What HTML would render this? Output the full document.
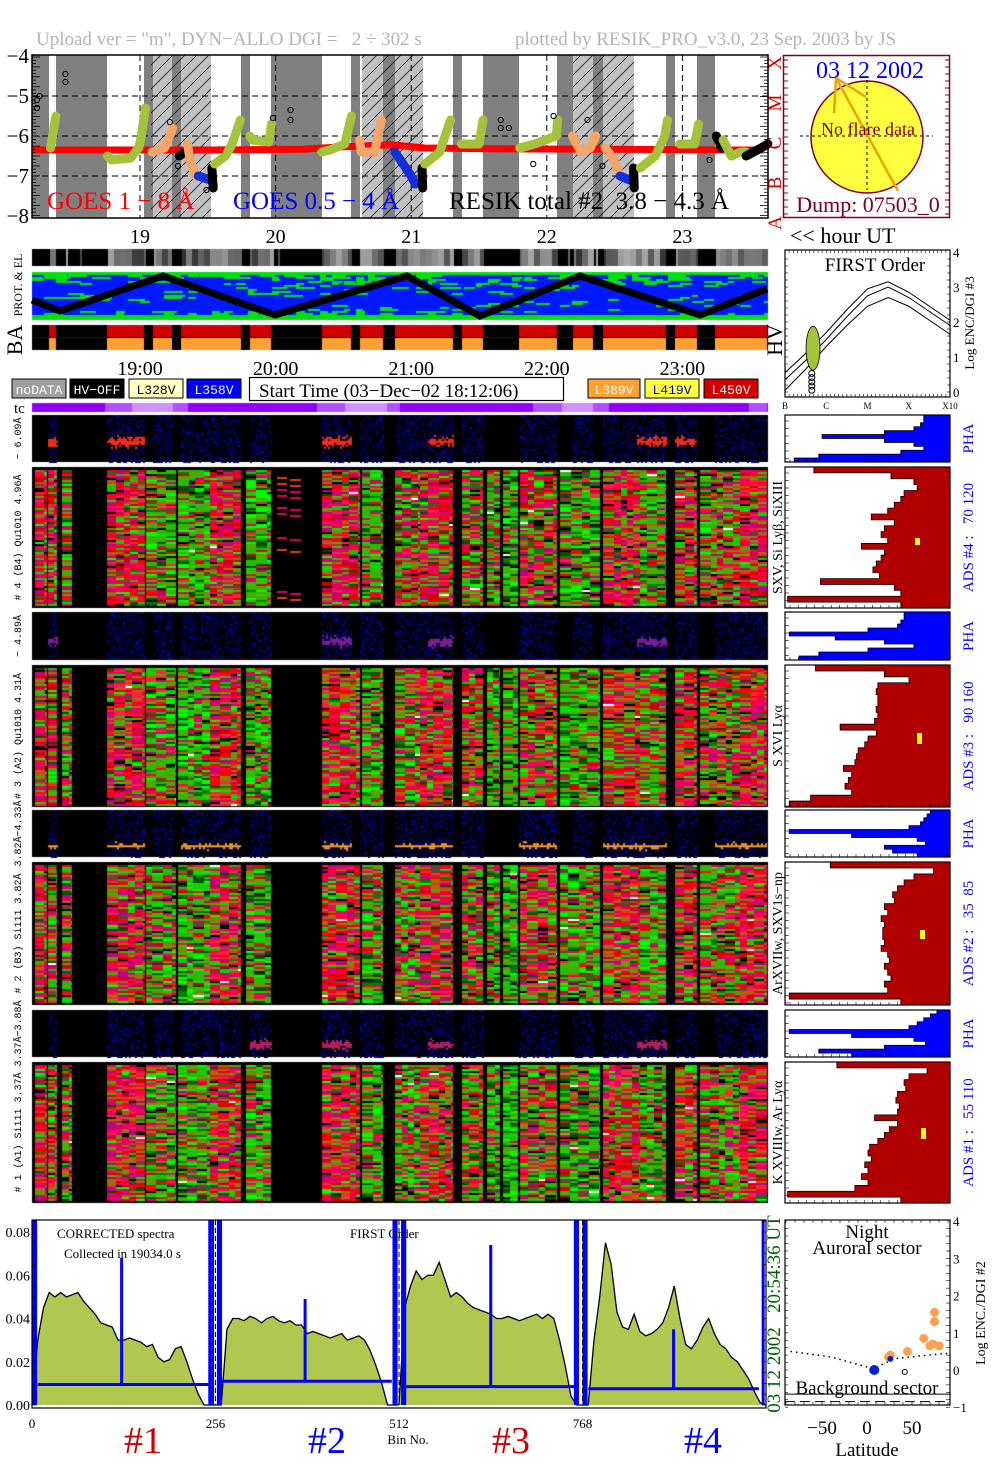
<!DOCTYPE html>
<html><head><meta charset="utf-8"><title>RESIK</title>
<style>
html,body{margin:0;padding:0;background:#fff;overflow:hidden}
#wrap{position:relative;width:1004px;height:1477px}
canvas,svg{position:absolute;left:0;top:0}
text{font-family:"Liberation Serif",serif}
.mono{font-family:"Liberation Mono",monospace}
</style></head>
<body>
<div id="wrap">
<canvas id="cv" width="1004" height="1477"></canvas>
<svg id="sv" width="1004" height="1477" xmlns="http://www.w3.org/2000/svg">
<defs>
<pattern id="hatch" width="12" height="12" patternUnits="userSpaceOnUse">
<path d="M0,12 L12,0 M-3,3 L3,-3 M9,15 L15,9" stroke="#000" stroke-width="0.7"/>
</pattern>
</defs>
<text x="36" y="45" font-size="19" fill="#b4b4b4" style="white-space:pre">Upload ver = "m", DYN−ALLO DGI =   2 ÷ 302 s</text>
<text x="515" y="45" font-size="19" fill="#b4b4b4">plotted by RESIK_PRO_v3.0, 23 Sep. 2003 by JS</text>
<g id="goes"></g>
<g id="sun"></g>
<g id="strips"></g>
<g id="first"></g>
<g id="legend"></g>
<g id="spec"></g>
<g id="hist"></g>
<g id="spectrum"></g>
<g id="lat"></g>
</svg>
</div>
<script>
// ======== DATA ========
const onSegments=[[49,56],[107,144],[153,172],[181,241],[250,271],[322,351],[360,383],[395,453],[462,483],[519,557],[573,593],[603,666],[675,697],[715,767]];
const hatchSegments=[[151,211],[362,423],[573,634]];
const hourTicks=[19,20,21,22,23];
const goesLogTicks=[-4,-5,-6,-7,-8];
const goesRed=[[18.2,-6.35],[19.5,-6.35],[20.2,-6.33],[20.5,-6.27],[20.85,-6.22],[21.1,-6.3],[21.6,-6.32],[22.4,-6.33],[23.3,-6.35],[23.6,-6.35]];
const resikColors=["#a4c23a","#a4c23a","#f4a56a","#000","#f4a56a","#1030e0","#000","#a4c23a","#a4c23a","#a4c23a","#f4a56a","#1030e0","#000","#a4c23a","#a4c23a","#a4c23a","#f4a56a","#f4a56a","#1030e0","#000","#a4c23a","#a4c23a","#000","#a4c23a","#000"];
const resikTracks=[
[[18.34,-6.3],[18.35,-6.1],[18.38,-5.5]],
[[18.76,-6.5],[18.79,-6.6],[18.93,-6.55],[18.99,-6.3],[19.01,-6.0],[19.04,-5.3]],
[[19.09,-6.4],[19.18,-6.3],[19.22,-6.0],[19.24,-5.8]],
[[19.29,-6.5],[19.33,-6.4]],
[[19.35,-6.2],[19.37,-6.6],[19.41,-7.0]],
[[19.43,-7.0],[19.52,-7.1]],
[[19.53,-6.8],[19.54,-7.3]],
[[19.55,-6.7],[19.63,-6.5],[19.68,-6.2],[19.74,-5.6]],
[[19.81,-6.0],[19.83,-6.1],[19.95,-6.15],[19.97,-5.7]],
[[20.34,-6.4],[20.40,-6.35],[20.51,-6.2],[20.56,-5.5]],
[[20.62,-6.1],[20.63,-6.4],[20.73,-6.4],[20.78,-5.6]],
[[20.88,-6.4],[21.0,-7.0],[21.03,-7.2]],
[[21.08,-6.8],[21.085,-7.3]],
[[21.1,-6.7],[21.21,-6.4],[21.29,-5.6]],
[[21.37,-6.2],[21.5,-6.2],[21.53,-5.6]],
[[21.8,-6.3],[21.91,-6.2],[22.07,-6.0],[22.08,-5.6]],
[[22.19,-6.0],[22.25,-6.4],[22.32,-6.3],[22.36,-6.0]],
[[22.43,-6.3],[22.5,-6.6],[22.53,-6.9]],
[[22.54,-7.0],[22.61,-7.1]],
[[22.64,-6.8],[22.645,-7.3]],
[[22.69,-6.8],[22.8,-6.5],[22.87,-6.0],[22.89,-5.6]],
[[22.98,-6.2],[23.09,-6.2],[23.12,-5.7]],
[[23.25,-6.0],[23.29,-6.3]],
[[23.3,-6.1],[23.36,-6.5],[23.43,-6.4],[23.47,-6.4]],
[[23.47,-6.5],[23.58,-6.3],[23.63,-6.2]]];
const looseCircles=[[18.24,-5.3],[18.24,-5.1],[18.26,-5.0],[18.45,-4.65],[18.45,-4.45],[19.22,-5.65],[19.28,-6.75],[19.49,-7.35],[19.98,-5.55],[20.11,-5.35],[20.11,-5.6],[21.66,-5.6],[21.66,-5.8],[21.72,-5.8],[21.9,-6.7],[22.05,-5.5],[22.3,-5.6],[22.41,-6.75],[23.2,-6.6]];
const firstX=[0,0.5,1,1.5,2,2.5,3,3.5,4];
const firstCurveA=[0.55,1.1,1.7,2.35,2.95,3.15,2.85,2.45,2.05];
const firstCurveB=[0.35,0.9,1.5,2.15,2.75,3.0,2.7,2.3,1.9];
const firstCurveC=[0.05,0.65,1.3,1.9,2.45,2.7,2.45,2.05,1.65];
const firstTicks=[0,1,2,3,4];
const classLabels=["B","C","M","X","X10"];
const binTicks=[0,256,512,768];
const specYTicks=[0,0.02,0.04,0.06,0.08];
const specTickLabels=["0.00","0.02","0.04","0.06","0.08"];
const ch1=[0,0.03,0.045,0.052,0.05,0.052,0.05,0.051,0.052,0.048,0.045,0.042,0.038,0.037,0.036,0.03,0.03,0.031,0.03,0.029,0.027,0.028,0.022,0.02,0.021,0.026,0.027,0.02,0.012,0.005,0,0,0];
const ch2=[0,0,0.035,0.04,0.04,0.039,0.041,0.04,0.038,0.04,0.041,0.039,0.038,0.039,0.037,0.037,0.033,0.034,0.033,0.032,0.031,0.032,0.033,0.03,0.031,0.032,0.03,0.025,0.018,0.01,0,0,0];
const ch3=[0,0.045,0.055,0.062,0.058,0.06,0.06,0.066,0.058,0.05,0.052,0.05,0.047,0.045,0.044,0.043,0.042,0.04,0.04,0.041,0.04,0.039,0.04,0.041,0.042,0.04,0.042,0.04,0.03,0.018,0.004,0,0];
const ch4=[0,0,0.03,0.05,0.075,0.065,0.043,0.036,0.035,0.042,0.034,0.032,0.033,0.035,0.038,0.045,0.055,0.04,0.028,0.026,0.03,0.036,0.04,0.033,0.028,0.026,0.022,0.02,0.016,0.012,0.006,0.001,0];
const blueBase=[0.0095,0.011,0.0085,0.0075];
const blueSpikeBins=[125,381,640,895];
const blueSpikeVals=[0.068,0.049,0.074,0.035];
const blueEdgeBins=[2,5,248,252,260,263,505,508,517,520,758,761,770,773,1020];
const latTicks=[-50,0,50];
const latLogTicks=[-1,0,1,2,3,4];
const latOrangeLat=[24,26,45,63,70,73,75,75,80];
const latOrangeVal=[0.35,0.4,0.5,0.85,0.65,0.7,1.55,1.3,0.65];
const latBlueLat=[8,26];
const latBlueVal=[0.0,0.3];
const latDotLat=[-85,-40,0,8,30,60,90];
const latDotVal=[0.5,0.35,0.08,0.05,0.3,0.38,0.45];
const hist4=[0.17,0.64,0.78,0.8,0.72,0.7,0.66,0.62,0.52,0.66,0.6,0.58,0.62,0.46,0.6,0.58,0.55,0.53,0.57,0.21,0.66,0.7,0.01,0.7];
const hist3=[0.18,0.6,0.75,0.56,0.55,0.56,0.56,0.55,0.56,0.54,0.33,0.55,0.5,0.48,0.44,0.43,0.42,0.35,0.4,0.38,0.36,0.4,0.15,0.02];
const hist2=[0.27,0.9,0.78,0.72,0.68,0.65,0.66,0.6,0.62,0.58,0.6,0.59,0.59,0.6,0.58,0.62,0.63,0.6,0.62,0.64,0.6,0.62,0.02,0.7];
const hist1=[0.31,0.86,0.75,0.72,0.73,0.68,0.67,0.69,0.68,0.54,0.68,0.63,0.6,0.56,0.51,0.5,0.52,0.48,0.5,0.46,0.5,0.42,0.01,0.7];
const pha4=[0.84,0.84,0.82,0.78,0.6,0.22,0.6,0.78,0.84,0.7,0.2,0.05];
const pha3=[0.72,0.72,0.7,0.68,0.5,0.02,0.3,0.6,0.78,0.5,0.2,0.08];
const pha2=[0.88,0.86,0.84,0.82,0.75,0.02,0.4,0.8,0.85,0.6,0.65,0.8];
const pha1=[0.92,0.88,0.84,0.8,0.75,0.02,0.4,0.78,0.85,0.6,0.2,0.4];

// ======== HELPERS ========
const NS="http://www.w3.org/2000/svg";
function mk(tag,attrs,parent){const e=document.createElementNS(NS,tag);for(const k in attrs)e.setAttribute(k,attrs[k]);parent.appendChild(e);return e;}
function txt(parent,x,y,s,size,fill,extra){const e=mk("text",Object.assign({x:x,y:y,"font-size":size,fill:fill||"#000"},extra||{}),parent);e.textContent=s;return e;}
function hsh(i,j){const v=Math.sin(i*12.9898+j*78.233)*43758.5453;return v-Math.floor(v);}
const xT=h=>140+(h-19)*135.6;
const yG=v=>136-(v+6)*40;

// ======== GOES PANEL ========
const G=document.getElementById("goes");
let r=mk("rect",{x:32,y:55,width:736,height:163,fill:"#fff"},G);

hatchSegments.forEach(s=>{mk("rect",{x:s[0],y:55,width:s[1]-s[0],height:163,fill:"#c0c0c0"},G);});
let prev=32;
const offSegs=[];
onSegments.forEach(s=>{if(s[0]>prev)offSegs.push([prev,s[0]]);prev=s[1];});
offSegs.forEach(s=>{
 const b=mk("rect",{x:s[0],y:55,width:s[1]-s[0],height:163,fill:"#808080"},G);
 
});
hatchSegments.forEach(s=>{mk("rect",{x:s[0],y:55,width:s[1]-s[0],height:163,fill:"url(#hatch)"},G);});
[-5,-6,-7].forEach(v=>{mk("line",{x1:32,x2:768,y1:yG(v),y2:yG(v),stroke:"#000","stroke-dasharray":"6,4","stroke-width":1},G);});
hourTicks.forEach(h=>{mk("line",{x1:xT(h),x2:xT(h),y1:55,y2:218,stroke:"#000","stroke-dasharray":"6,4","stroke-width":1},G);});
let gp=goesRed.map(p=>xT(p[0])+","+yG(p[1])).join(" ");
let gl=mk("polyline",{points:gp,fill:"none",stroke:"#ff0000","stroke-width":7},G);

resikTracks.forEach((t,i)=>{
 const pl=mk("polyline",{points:t.map(p=>xT(p[0])+","+yG(p[1])).join(" "),fill:"none",stroke:resikColors[i],"stroke-width":9,"stroke-linecap":"round","stroke-linejoin":"round"},G);
 
});
looseCircles.forEach(c=>{const ci=mk("circle",{cx:xT(c[0]),cy:yG(c[1]),r:2.6,fill:"none",stroke:"#000","stroke-width":1},G);
 });
mk("rect",{x:32,y:55,width:736,height:163,fill:"none",stroke:"#000","stroke-width":1.5},G);
for(let y=57;y<218;y+=3.3){mk("line",{x1:32,x2:(Math.round((y-57)/3.3)%3==0?40:36),y1:y,y2:y,stroke:"#000","stroke-width":0.8},G);mk("line",{x1:768,x2:(Math.round((y-57)/3.3)%3==0?760:764),y1:y,y2:y,stroke:"#000","stroke-width":0.8},G);}
goesLogTicks.forEach(v=>{const t=txt(G,29,yG(v)+7,"−"+(-v),21,"#000",{"text-anchor":"end"});});
["A","B","C","M","X"].forEach((c,i)=>{const t=txt(G,0,0,c,19,"#cc0000",{transform:"translate("+781+","+(yG(-8+i)+7)+") rotate(-90)","text-anchor":"middle"});});
let t1=txt(G,47,209,"GOES 1 − 8 Å",25,"#ff0000");
let t2=txt(G,233,209,"GOES 0.5 − 4 Å",25,"#0000ff");
let t3=txt(G,449,209,"RESIK total #2  3.8 − 4.3 Å",25,"#000",{style:"white-space:pre"});
hourTicks.forEach(h=>{const t=txt(G,xT(h),243,String(h),20,"#000",{"text-anchor":"middle"});});
let hu=txt(G,790,243,"<< hour UT",22,"#000");

// ======== SUN ========
const S=document.getElementById("sun");
mk("rect",{x:783.5,y:55.5,width:166,height:162,fill:"#fff",stroke:"#800020","stroke-width":1.5},S);
for(let y=60;y<218;y+=7){mk("line",{x1:784,x2:788,y1:y,y2:y,stroke:"#800020"},S);mk("line",{x1:945,x2:949,y1:y,y2:y,stroke:"#800020"},S);}
let sc=mk("circle",{cx:867,cy:137,r:56,fill:"#ffff40",stroke:"#800020","stroke-width":1.5},S);

mk("line",{x1:800,x2:933,y1:136,y2:136,stroke:"#000","stroke-dasharray":"3,3"},S);
mk("line",{x1:867,x2:867,y1:80,y2:190,stroke:"#000","stroke-dasharray":"3,3"},S);
mk("polyline",{points:"834,113 836,78 866,97",fill:"none",stroke:"#f0a000","stroke-width":2.5},S);
mk("line",{x1:836,y1:78,x2:898,y2:191,stroke:"#f0a000","stroke-width":2.5},S);
let sd=txt(S,870,78,"03 12 2002",24,"#0000ff",{"text-anchor":"middle"});
let sn=txt(S,868,135,"No flare data",18,"#800020",{"text-anchor":"middle"});
let sdu=txt(S,868,212,"Dump: 07503_0",22,"#800020",{"text-anchor":"middle"});

// ======== STRIPS (svg parts) ========
const ST=document.getElementById("strips");
const zig=[[32,300],[60,311],[163,276],[275,315],[407,276],[480,316],[580,276],[700,315],[767,289]];
let zz=mk("polyline",{points:zig.map(p=>p.join(",")).join(" "),fill:"none",stroke:"#000","stroke-width":7},ST);

txt(ST,0,0,"PROT. & EL",12,"#000",{transform:"translate(22,285) rotate(-90)","text-anchor":"middle"});
txt(ST,0,0,"BA",22,"#000",{transform:"translate(22,340) rotate(-90)","text-anchor":"middle"});
txt(ST,0,0,"HV",22,"#000",{transform:"translate(782,340) rotate(-90)","text-anchor":"middle"});
mk("line",{x1:32,x2:768,y1:337.5,y2:337.5,stroke:"#0000c0","stroke-width":1},ST);
["19:00","20:00","21:00","22:00","23:00"].forEach((s,i)=>{const t=txt(ST,xT(19+i),375,s,20,"#000",{"text-anchor":"middle"});});
txt(ST,14,413,"tc",15,"#000");

// ======== FIRST ORDER ========
const F=document.getElementById("first");
const fx=c=>785+c*41.25, fy=v=>392-v*35;
mk("rect",{x:785,y:250,width:165,height:147,fill:"#fff",stroke:"#000","stroke-width":1.2},F);
for(let i=0;i<=40;i++){const x=785+i*4.125;mk("line",{x1:x,x2:x,y1:250,y2:253,stroke:"#000","stroke-width":0.6},F);mk("line",{x1:x,x2:x,y1:394,y2:397,stroke:"#000","stroke-width":0.6},F);}
for(let v=0;v<=4;v+=0.2){mk("line",{x1:785,x2:788,y1:fy(v),y2:fy(v),stroke:"#000","stroke-width":0.6},F);mk("line",{x1:947,x2:950,y1:fy(v),y2:fy(v),stroke:"#000","stroke-width":0.6},F);}
[firstCurveA,firstCurveB,firstCurveC].forEach(cv=>{const p=mk("polyline",{points:firstX.map((c,i)=>fx(c)+","+fy(cv[i])).join(" "),fill:"none",stroke:"#000","stroke-width":1},F);});
let fb=mk("ellipse",{cx:fx(0.68),cy:fy(1.25),rx:7,ry:22,fill:"#a4c23a",stroke:"#000","stroke-width":0.8},F);

for(let k=0;k<5;k++)mk("circle",{cx:fx(0.65),cy:fy(0.05+k*0.12),r:3,fill:"none",stroke:"#000"},F);
txt(F,875,271,"FIRST Order",19,"#000",{"text-anchor":"middle"});
firstTicks.forEach(v=>{txt(F,953,fy(v)+5,String(v),13,"#000");});
txt(F,0,0,"Log ENC/DGI #3",13,"#000",{transform:"translate(974,323) rotate(-90)","text-anchor":"middle"});
classLabels.forEach((c,i)=>{txt(F,fx(i),409,c,9,"#000",{"text-anchor":"middle"});});

// ======== LEGEND ========
const L=document.getElementById("legend");
const legItems=[["noDATA",12,54,"#a0a0a0","#fff"],["HV−OFF",70,54,"#000","#fff"],["L328V",129,54,"#ffffc0","#000"],["L358V",187,54,"#0000ff","#fff"],["L389V",588,52,"#ffa030","#fff"],["L419V",645,54,"#ffff40","#0000c0"],["L450V",704,54,"#d00000","#fff"]];
legItems.forEach(it=>{
 const g=mk("g",{},L);
 
 
 mk("rect",{x:it[1],y:379,width:it[2],height:19,fill:it[3],stroke:"#000","stroke-width":1},g);
 const t=mk("text",{x:it[1]+it[2]/2,y:394,"font-size":13,fill:it[4],"text-anchor":"middle",class:"mono"},g);t.textContent=it[0];
});
mk("rect",{x:249.5,y:377.5,width:314,height:23,fill:"#fff",stroke:"#000","stroke-width":1.2},L);
txt(L,259,397,"Start Time (03−Dec−02 18:12:06)",19,"#000");

// ======== SPECTROGRAM FRAMES / LABELS ========
const SP=document.getElementById("spec");
const phaY=[[415,462],[612,660],[810,857],[1010,1057]];
const bigY=[[467,608],[665,807],[862,1005],[1062,1203]];
const leftPha=["− 6.09Å","− 4.89Å","3.82Å−4.33Å","3.37Å−3.88Å"];
const leftBig=["# 4 (B4) Qu1010 4.96Å","# 3 (A2) Qu1010 4.31Å","# 2 (B3) Si111 3.82Å","# 1 (A1) Si111 3.37Å"];
const rightLine=["SXV, Si Lyβ, SiXIII","S XVI Lyα","ArXVIIw, SXV1s−np","K XVIIIw, Ar Lyα"];
const adsLbl=["ADS #4 :   70 120","ADS #3 :   90 160","ADS #2 :   35  85","ADS #1 :   55 110"];
for(let i=0;i<4;i++){
 const a=phaY[i],b=bigY[i];
 txt(SP,0,0,leftPha[i],10,"#000",{transform:"translate(21,"+(a[0]+a[1])/2+") rotate(-90)","text-anchor":"middle",class:"mono"});
 txt(SP,0,0,leftBig[i],10,"#000",{transform:"translate(21,"+(b[0]+b[1])/2+") rotate(-90)","text-anchor":"middle",class:"mono"});
 txt(SP,0,0,rightLine[i],14,"#000",{transform:"translate(782,"+(b[0]+b[1])/2+") rotate(-90)","text-anchor":"middle"});
 txt(SP,0,0,"PHA",15,"#0000ff",{transform:"translate(973,"+(a[0]+a[1])/2+") rotate(-90)","text-anchor":"middle"});
 txt(SP,0,0,adsLbl[i],15,"#0000ff",{transform:"translate(973,"+(b[0]+b[1])/2+") rotate(-90)","text-anchor":"middle",style:"white-space:pre"});
}

// ======== HISTOGRAMS ========
const H=document.getElementById("hist");
function drawHist(arr,y0,y1,col,name){
 const X0=786,W=164,n=arr.length,dh=(y1-y0)/n;
 mk("rect",{x:785,y:y0,width:165,height:y1-y0,fill:"#fff",stroke:"#000","stroke-width":1.2},H);
 let d="M950,"+y0;
 arr.forEach((f,i)=>{const x=X0+f*W;d+=" L"+x+","+(y0+i*dh)+" L"+x+","+(y0+(i+1)*dh);});
 d+=" L950,"+y1+" Z";
 const p=mk("path",{d:d,fill:col,stroke:"#000","stroke-width":0.8},H);
 
 for(let y=y0+6;y<y1;y+=7.5){mk("line",{x1:785,x2:789,y1:y,y2:y,stroke:"#000","stroke-width":0.6},H);}
 for(let x=790;x<950;x+=8.25){mk("line",{x1:x,x2:x,y1:y1-3,y2:y1,stroke:"#000","stroke-width":0.6},H);}
}
drawHist(pha4,phaY[0][0],phaY[0][1],"#0000ff","pha-histogram-4");
drawHist(hist4,bigY[0][0],bigY[0][1],"#b00000","ads-histogram-4");
drawHist(pha3,phaY[1][0],phaY[1][1],"#0000ff","pha-histogram-3");
drawHist(hist3,bigY[1][0],bigY[1][1],"#b00000","ads-histogram-3");
drawHist(pha2,phaY[2][0],phaY[2][1],"#0000ff","pha-histogram-2");
drawHist(hist2,bigY[2][0],bigY[2][1],"#b00000","ads-histogram-2");
drawHist(pha1,phaY[3][0],phaY[3][1],"#0000ff","pha-histogram-1");
drawHist(hist1,bigY[3][0],bigY[3][1],"#b00000","ads-histogram-1");
[[915,538,5,7],[917,733,5,11],[920,930,5,9],[921,1128,5,11]].forEach(q=>{mk("rect",{x:q[0],y:q[1],width:q[2],height:q[3],fill:"#ffff20"},H);});

// ======== SPECTRUM ========
const P=document.getElementById("spectrum");
const bx=b=>32+b*0.7168, vy=v=>1405-v*2162;
mk("rect",{x:32,y:1220,width:734,height:188,fill:"#fff"},P);
const chans=[ch1,ch2,ch3,ch4];
chans.forEach((c,k)=>{
 const pts=c.map((v,i)=>bx(k*256+i*8)+","+vy(v));
 const poly=mk("polygon",{points:bx(k*256)+","+vy(0)+" "+pts.join(" ")+" "+bx(k*256+256)+","+vy(0),fill:"#b0c850",stroke:"none"},P);
 
 const ln=mk("polyline",{points:pts.join(" "),fill:"none",stroke:"#000","stroke-width":1.3},P);
 
});
blueBase.forEach((v,k)=>{
 const bl=mk("line",{x1:bx(k*256+8),x2:bx(k*256+246),y1:vy(v),y2:vy(v),stroke:"#0000ff","stroke-width":3},P);
 
});
blueSpikeBins.forEach((b,i)=>{const s=mk("line",{x1:bx(b),x2:bx(b),y1:vy(blueBase[Math.floor(b/256)]),y2:vy(blueSpikeVals[i]),stroke:"#0000ff","stroke-width":3},P);});
blueEdgeBins.forEach(b=>{const s=mk("line",{x1:bx(b),x2:bx(b),y1:vy(0),y2:1220,stroke:"#0000ff","stroke-width":3},P);});
[256,512,768].forEach(b=>{mk("line",{x1:bx(b),x2:bx(b),y1:1220,y2:1405,stroke:"#000","stroke-dasharray":"5,3","stroke-width":1},P);});
mk("rect",{x:32,y:1220,width:734,height:188,fill:"none",stroke:"#000","stroke-width":1.2},P);
for(let v=0;v<=0.085;v+=0.005){mk("line",{x1:32,x2:36,y1:vy(v),y2:vy(v),stroke:"#000","stroke-width":0.7},P);mk("line",{x1:762,x2:766,y1:vy(v),y2:vy(v),stroke:"#000","stroke-width":0.7},P);}
specYTicks.forEach((v,i)=>{txt(P,30,vy(v)+5,specTickLabels[i],14,"#000",{"text-anchor":"end"});});
binTicks.forEach(b=>{txt(P,bx(b),1428,String(b),13,"#000",{"text-anchor":"middle"});});
txt(P,408,1444,"Bin No.",13,"#000",{"text-anchor":"middle"});
txt(P,57,1238,"CORRECTED spectra",13,"#000");
txt(P,64,1258,"Collected in 19034.0 s",13,"#000");
txt(P,350,1238,"FIRST Order",13,"#000");
[["#1",143,"#cc0000"],["#2",327,"#0000ff"],["#3",511,"#cc0000"],["#4",703,"#0000ff"]].forEach(q=>{txt(P,q[1],1453,q[0],38,q[2],{"text-anchor":"middle"});});
txt(P,0,0,"03 12 2002   20:54:36 UT",19,"#006000",{transform:"translate(780,1314) rotate(-90)","text-anchor":"middle",style:"white-space:pre"});

// ======== LATITUDE ========
const LA=document.getElementById("lat");
const lx=l=>867+l*0.9, ly=v=>1370-v*37.2;
mk("rect",{x:785,y:1220,width:165,height:185,fill:"#fff",stroke:"#000","stroke-width":1.2},LA);
for(let l=-90;l<=90;l+=10){mk("line",{x1:lx(l),x2:lx(l),y1:1220,y2:1223,stroke:"#000","stroke-width":0.6},LA);mk("line",{x1:lx(l),x2:lx(l),y1:1402,y2:1405,stroke:"#000","stroke-width":0.6},LA);}
for(let v=-1;v<=4;v+=0.2){mk("line",{x1:946,x2:950,y1:ly(v),y2:ly(v),stroke:"#000","stroke-width":0.6},LA);mk("line",{x1:785,x2:788,y1:ly(v),y2:ly(v),stroke:"#000","stroke-width":0.6},LA);}
mk("line",{x1:785,x2:950,y1:ly(-0.65),y2:ly(-0.65),stroke:"#000","stroke-width":1},LA);
mk("line",{x1:785,x2:950,y1:ly(-0.85),y2:ly(-0.85),stroke:"#000","stroke-dasharray":"10,5","stroke-width":1},LA);
let dl=mk("polyline",{points:latDotLat.map((l,i)=>lx(l)+","+ly(latDotVal[i])).join(" "),fill:"none",stroke:"#000","stroke-dasharray":"1.5,4","stroke-width":1.5},LA);

latOrangeLat.forEach((l,i)=>{const c=mk("circle",{cx:lx(l),cy:ly(latOrangeVal[i]),r:4.5,fill:"#ffa050"},LA);});
latBlueLat.forEach((l,i)=>{const c=mk("circle",{cx:lx(l),cy:ly(latBlueVal[i]),r:i==0?5:3,fill:"#0020e0"},LA);});
mk("circle",{cx:lx(42),cy:ly(-0.05),r:2.5,fill:"none",stroke:"#000"},LA);
txt(LA,867,1238,"Night",19,"#000",{"text-anchor":"middle"});
txt(LA,867,1254,"Auroral sector",19,"#000",{"text-anchor":"middle"});
txt(LA,867,1394,"Background sector",19,"#000",{"text-anchor":"middle"});
latTicks.forEach(l=>{txt(LA,lx(l),1434,(l<0?"−":"")+Math.abs(l),19,"#000",{"text-anchor":"middle"});});
txt(LA,867,1456,"Latitude",19,"#000",{"text-anchor":"middle"});
latLogTicks.forEach(v=>{txt(LA,953,ly(v)+5,(v<0?"−":"")+Math.abs(v),13,"#000");});
txt(LA,0,0,"Log ENC./DGI #2",14,"#000",{transform:"translate(985,1313) rotate(-90)","text-anchor":"middle"});

// ======== CANVAS TEXTURES ========
const cx=document.getElementById("cv").getContext("2d");
function isOn(x){return onSegments.some(s=>x>=s[0]&&x<s[1]);}
for(let x=32;x<768;x+=2){let g=0;if(isOn(x)||hsh(x,1)<0.1){g=Math.floor(50+120*hsh(Math.floor(x/6),2));}cx.fillStyle="rgb("+g+","+g+","+g+")";cx.fillRect(x,249,2,17);}
cx.fillStyle="#0018ff";cx.fillRect(32,272,736,48);
cx.fillStyle="#00e010";cx.fillRect(32,272,736,3);cx.fillRect(32,315,736,5);
const plumes=[60,150,190,265,330,345,420,500,555,640,700];
for(let y=275;y<315;y+=2){for(let x=32;x<768;x+=12){
 let p=0.05+0.45*Math.exp(-(y-275)/5)+0.35*Math.exp(-(315-y)/4);
 plumes.forEach(px=>{p+=0.25*Math.exp(-Math.abs(x-px)/12)*Math.exp(-(y-276)/18);});
 p+=0.12*Math.sin(y*0.3+x*0.008);
 if(hsh(x,y)<p){cx.fillStyle="#00e010";cx.fillRect(x,y,Math.min(768-x,6+Math.floor(hsh(y,x)*14)),2);}
}}
cx.fillStyle="#000";cx.fillRect(32,325,736,25);
onSegments.forEach(s=>{cx.fillStyle="#d00000";cx.fillRect(s[0],325,s[1]-s[0],12);cx.fillStyle="#ffa030";cx.fillRect(s[0],338,s[1]-s[0],12);});
cx.fillStyle="#9000ff";cx.fillRect(32,403,736,9);
[[105,132,"#b050ff"],[132,173,"#d090ff"],[173,188,"#b050ff"],[317,345,"#b050ff"],[345,387,"#d090ff"],[387,400,"#b050ff"],[533,562,"#b050ff"],[562,593,"#d090ff"],[593,609,"#b050ff"],[749,767,"#b050ff"]].forEach(q=>{cx.fillStyle=q[2];cx.fillRect(q[0],403,q[1]-q[0],9);});
const bigSegs=[[35,47,0.8],[48,57,0.6],[62,72,0.5],[107,145,0.8],[146,176,0.35],[178,210,0.2],[210,241,0.75],[246,271,0.3],[322,360,0.75],[362,383,0.3],[395,420,0.45],[420,453,0.7],[462,483,0.5],[487,500,0.3],[503,518,0.1],[520,557,0.6],[560,600,0.2],[603,640,0.75],[640,666,0.3],[675,697,0.7],[700,740,0.45],[740,767,0.8]];
const redPal=["#ff0000","#e0006a","#ff2040","#c00080","#ff0050","#d00000","#a07000"];
const grnPal=["#00e000","#008000","#20c000","#60a000","#005000","#00ff00","#40b000"];
bigY.forEach((yy,pi)=>{
 cx.fillStyle="#000";cx.fillRect(32,yy[0],736,yy[1]-yy[0]);
 bigSegs.forEach((s,si)=>{
  const red=Math.min(0.95,Math.max(0.05,s[2]+0.12*(hsh(si,pi)-0.5)));
  for(let x=s[0];x<s[1];){
   const w=Math.min(s[1]-x,6+Math.floor(hsh(x,pi*7)*6));
   for(let y=yy[0]+3;y<yy[1]-2;y+=2){
    const h=hsh(x*3+pi,y);
    let col;
    if(h<0.05)col="#000";else if(h>0.996)col="#ffffff";else if(hsh(y,x+pi)<red)col=redPal[Math.floor(hsh(x+y,pi+3)*redPal.length)];else col=grnPal[Math.floor(hsh(x-y,pi+5)*grnPal.length)];
    cx.fillStyle=col;cx.fillRect(x,y,w,2);
   }
   x+=w;
  }
 });
 if(pi==0){for(let y=yy[0]+10;y<yy[1]-4;y+=6){if(hsh(y,9)<0.6){cx.fillStyle=hsh(y,4)<0.5?"#e04000":"#e00060";cx.fillRect(277,y,10,2);cx.fillRect(290,y+2,11,2);}}}
});
const phaBand=[[[107,145],[322,351],[428,453],[637,666],[675,697],[48,57]],[[322,351],[428,453],[637,666],[48,57]],[[48,57],[107,145],[181,241],[322,351],[395,453],[519,557],[603,666],[715,767]],[[322,351],[428,453],[637,666],[250,271]]];
const bandY=[0.55,0.6,0.75,0.72];
const bandCol=["#ff3010","#8020a0","#ffa020","#c02060"];
phaY.forEach((yy,pi)=>{
 cx.fillStyle="#000";cx.fillRect(32,yy[0],736,yy[1]-yy[0]);
 const h=yy[1]-yy[0];
 onSegments.forEach(s=>{
  for(let x=s[0];x<s[1];x+=2){for(let y=yy[0];y<yy[1];y+=2){
   const v=hsh(x+pi*13,y);
   if(v<0.45){const b=Math.floor(50+150*hsh(y,x+pi)*hsh(x,y+1));cx.fillStyle="rgb(0,0,"+b+")";cx.fillRect(x,y,2,2);}
  }}
 });
 phaBand[pi].forEach(s=>{
  const cy=yy[0]+h*bandY[pi];
  for(let x=s[0];x<s[1];x+=2){for(let dy=-6;dy<=6;dy+=2){const f=Math.exp(-dy*dy/(pi==2?4:14));if(hsh(x,dy+pi*5)<f){cx.fillStyle=bandCol[pi];cx.fillRect(x,cy+dy,2,2);}}}
 });
});
</script>
</body></html>
